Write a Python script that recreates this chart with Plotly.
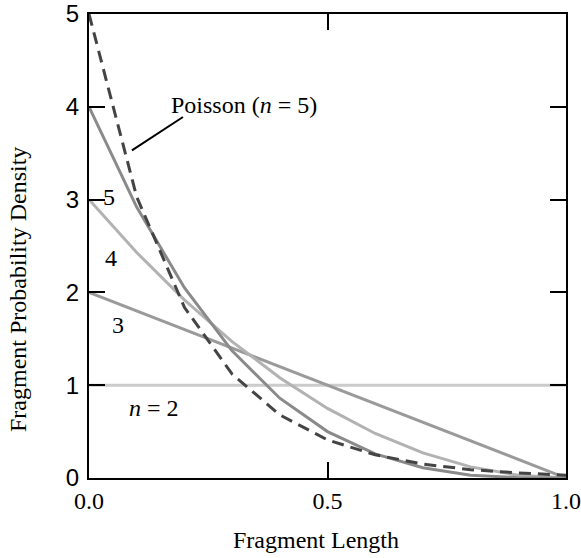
import plotly.graph_objects as go

# Fragment length (x) sample points
x_vals = [0.0, 0.1, 0.2, 0.3, 0.4, 0.5, 0.6, 0.7, 0.8, 0.9, 1.0]

# Fragment probability density curves
n2 = [1.0, 1.0, 1.0, 1.0, 1.0, 1.0, 1.0, 1.0, 1.0, 1.0, 1.0]
n3 = [2.0, 1.8, 1.6, 1.4, 1.2, 1.0, 0.8, 0.6, 0.4, 0.2, 0.0]
n4 = [3.0, 2.43, 1.92, 1.47, 1.08, 0.75, 0.48, 0.27, 0.12, 0.03, 0.0]
n5 = [4.0, 2.92, 2.05, 1.37, 0.86, 0.5, 0.26, 0.11, 0.03, 0.004, 0.0]
poisson = [5.0, 3.03, 1.84, 1.12, 0.68, 0.41, 0.25, 0.15, 0.09, 0.055, 0.03]

x_ticks = [0.0, 0.5, 1.0]
x_tick_labels = ["0.0", "0.5", "1.0"]
y_ticks = [0, 1, 2, 3, 4, 5]
y_tick_labels = ["0", "1", "2", "3", "4", "5"]

SERIF = "Liberation Serif, Times New Roman, serif"
SANS = "Liberation Sans, Arial, Helvetica, sans-serif"

fig = go.Figure()
series = [
    (n2, "#cbcbcb", "solid"),
    (n3, "#9a9a9a", "solid"),
    (n4, "#b2b2b2", "solid"),
    (n5, "#8a8a8a", "solid"),
    (poisson, "#444444", "12px,7px"),
]
for ys, col, dash in series:
    fig.add_trace(go.Scatter(x=x_vals, y=ys, mode="lines",
                             line=dict(color=col, width=3, dash=dash),
                             showlegend=False, hoverinfo="skip"))

fig.update_xaxes(range=[0, 1], tickvals=x_ticks, ticktext=x_tick_labels,
                 ticks="inside", ticklen=16, tickwidth=2, tickcolor="black",
                 showline=True, linecolor="black", linewidth=2, mirror="ticks",
                 showgrid=False, zeroline=False, automargin=False,
                 ticklabeloverflow="allow",
                 tickfont=dict(family=SERIF, size=24, color="black"))
fig.update_yaxes(range=[0, 5], tickvals=y_ticks, ticktext=y_tick_labels,
                 ticks="inside", ticklen=16, tickwidth=2, tickcolor="black",
                 showline=True, linecolor="black", linewidth=2, mirror="ticks",
                 showgrid=False, zeroline=False, automargin=False,
                 ticklabeloverflow="allow", ticklabelstandoff=3,
                 tickfont=dict(family=SANS, size=24, color="black"))

annos = [
    dict(x=0.042, y=3.03, text="5"),
    dict(x=0.046, y=2.37, text="4"),
    dict(x=0.061, y=1.65, text="3"),
    dict(x=0.136, y=0.755, text="<i>n</i> = 2"),
    dict(x=0.325, y=4.02, text="Poisson (<i>n</i> = 5)"),
]
for a in annos:
    fig.add_annotation(x=a["x"], y=a["y"], xref="x", yref="y", text=a["text"],
                       showarrow=False, xanchor="center", yanchor="middle",
                       font=dict(family=SERIF, size=24, color="black"))

fig.add_annotation(x=0.0, y=0.5, xref="paper", yref="paper", xshift=-71, yshift=-44,
                   text="Fragment Probability Density", textangle=-90, showarrow=False,
                   xanchor="center", yanchor="middle",
                   font=dict(family=SERIF, size=24, color="black"))
fig.add_annotation(x=0.5, y=0.0, xref="paper", yref="paper", xshift=-12, yshift=-62,
                   text="Fragment Length", showarrow=False,
                   xanchor="center", yanchor="middle",
                   font=dict(family=SERIF, size=24, color="black"))

fig.add_shape(type="line", xref="x", yref="y", x0=0.090, y0=3.53, x1=0.197, y1=3.89,
              line=dict(color="black", width=2))

fig.update_layout(width=581, height=558, margin=dict(l=89, r=15, t=14, b=80),
                  plot_bgcolor="white", paper_bgcolor="white")

fig.write_html("out.html")
